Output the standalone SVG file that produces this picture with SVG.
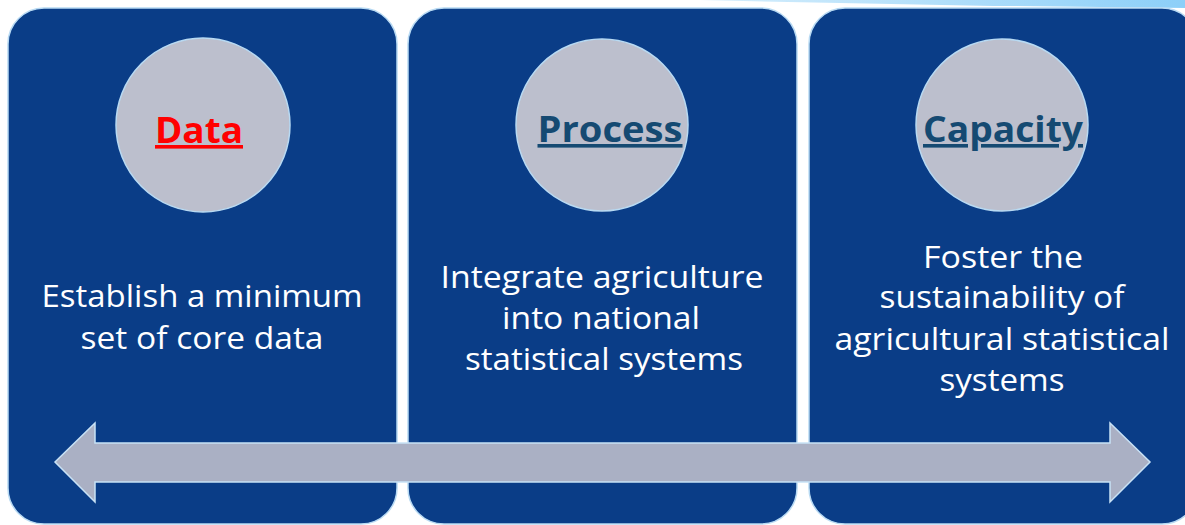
<svg xmlns="http://www.w3.org/2000/svg" width="1185" height="525" viewBox="0 0 1185 525">
<defs>
<linearGradient id="sw" x1="0" y1="0" x2="1" y2="0">
<stop offset="0" stop-color="#d6eefc"/>
<stop offset="1" stop-color="#8ccff8"/>
</linearGradient>
</defs>
<style>
.panel{fill:#0a3d87;stroke:#b8daf3;stroke-width:1.5}
.circ{fill:#bcbfcd;stroke:#b8daf3;stroke-width:1.5}
.title{font-family:"Open Sans","Noto Sans",sans-serif;font-weight:bold;font-size:36px;text-anchor:middle;text-decoration:underline}
.body{font-family:"Open Sans","Noto Sans",sans-serif;font-size:31px;fill:#ffffff;text-anchor:middle}
.arrow{fill:#aab0c4;stroke:#c8e2f6;stroke-width:1.5}
</style>
<rect width="1185" height="525" fill="#ffffff"/>
<path d="M700 0 L1185 0 L1185 8 Q950 6 700 0 Z" fill="url(#sw)"/>
<g id="node-data">
<rect class="panel" x="8" y="8" width="389" height="516" rx="36"/>
<circle class="circ" cx="203" cy="125" r="87"/>
<text class="title" x="199" y="143" fill="#ff0000" textLength="88" lengthAdjust="spacingAndGlyphs">Data</text>
<text class="body" x="202" y="307" textLength="321" lengthAdjust="spacingAndGlyphs">Establish a minimum</text>
<text class="body" x="202" y="349" textLength="243" lengthAdjust="spacingAndGlyphs">set of core data</text>
</g>
<g id="node-process">
<rect class="panel" x="408" y="8" width="389" height="516" rx="36"/>
<circle class="circ" cx="602" cy="125" r="86"/>
<text class="title" x="610" y="142" fill="#154a72" textLength="145" lengthAdjust="spacingAndGlyphs">Process</text>
<text class="body" x="602" y="288" textLength="323" lengthAdjust="spacingAndGlyphs">Integrate agriculture</text>
<text class="body" x="601" y="329" textLength="198" lengthAdjust="spacingAndGlyphs">into national</text>
<text class="body" x="604" y="370" textLength="278" lengthAdjust="spacingAndGlyphs">statistical systems</text>
</g>
<g id="node-capacity">
<rect class="panel" x="809" y="8" width="389" height="516" rx="36"/>
<circle class="circ" cx="1002" cy="125" r="86"/>
<text class="title" x="1003" y="142" fill="#154a72" textLength="160" lengthAdjust="spacingAndGlyphs">Capacity</text>
<text class="body" x="1003" y="268" textLength="160" lengthAdjust="spacingAndGlyphs">Foster the</text>
<text class="body" x="1002" y="308" textLength="245" lengthAdjust="spacingAndGlyphs">sustainability of</text>
<text class="body" x="1002" y="350" textLength="335" lengthAdjust="spacingAndGlyphs">agricultural statistical</text>
<text class="body" x="1002" y="391" textLength="125" lengthAdjust="spacingAndGlyphs">systems</text>
</g>
<g id="connectors">
<polygon class="arrow" points="55,462 95,423 95,443 1110,443 1110,423 1150,462 1110,502 1110,482 95,482 95,502"/>
</g>
</svg>
